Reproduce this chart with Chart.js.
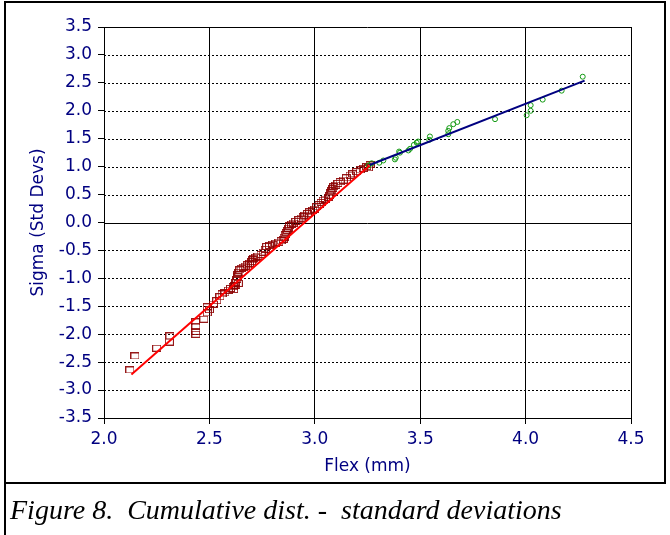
<!DOCTYPE html>
<html>
<head>
<meta charset="utf-8">
<script src="https://cdn.jsdelivr.net/npm/chart.js@4.4.0/dist/chart.umd.min.js"></script>
<style>
body { margin: 0; background: #fff; }
#wrap { position: relative; width: 670px; height: 535px; overflow: hidden; }
#chart { position: absolute; left: 0; top: 0; }
#frame { position: absolute; left: 4px; top: 1px; width: 662px; height: 483px; box-sizing: border-box; border: 2px solid #000; }
#side { position: absolute; left: 4px; top: 484px; width: 2px; height: 51px; background: #000; }
#caption { position: absolute; left: 10px; top: 496px; font: italic 28px "Liberation Serif", "Times New Roman", serif; line-height: 28px; white-space: pre; }
</style>
</head>
<body>
<div id="wrap">
  <canvas id="chart" width="670" height="485"></canvas>
  <div id="frame"></div>
  <div id="side"></div>
  <div id="caption">Figure 8.  Cumulative dist. -  standard deviations</div>
</div>
<script>
// tick labels
const xTicks = [2.0, 2.5, 3.0, 3.5, 4.0, 4.5];
const yTicks = [3.5, 3.0, 2.5, 2.0, 1.5, 1.0, 0.5, 0.0, -0.5, -1.0, -1.5, -2.0, -2.5, -3.0, -3.5];

// lower group (squares): [flex, sigma]
const lowerPts = [
    [2.123, -2.64], [2.147, -2.39], [2.25, -2.25], [2.31, -2.14], [2.313, -2.03],
    [2.436, -2.0], [2.436, -1.95], [2.436, -1.86], [2.436, -1.78],
    [2.474, -1.73], [2.49, -1.62], [2.49, -1.51], [2.5, -1.56],
    [2.519, -1.46], [2.535, -1.40], [2.55, -1.33], [2.56, -1.28], [2.574, -1.26],
    [2.59, -1.21], [2.60, -1.18], [2.613, -1.15], [2.625, -1.12], [2.637, -1.09],
    [2.615, -1.2], [2.62, -1.13], [2.625, -1.07], [2.63, -1.02], [2.632, -0.97],
    [2.635, -0.93], [2.64, -0.89], [2.645, -0.85], [2.65, -0.82], [2.66, -0.80],
    [2.67, -0.78], [2.68, -0.76], [2.69, -0.73], [2.70, -0.70], [2.705, -0.67],
    [2.71, -0.64], [2.72, -0.62], [2.73, -0.60], [2.745, -0.57], [2.755, -0.53],
    [2.765, -0.48], [2.772, -0.43], [2.785, -0.41], [2.80, -0.39], [2.815, -0.37],
    [2.83, -0.35], [2.84, -0.33], [2.85, -0.30], [2.855, -0.26], [2.86, -0.22],
    [2.865, -0.18], [2.87, -0.14], [2.875, -0.10], [2.88, -0.06], [2.89, -0.03],
    [2.898, -0.01], [2.91, 0.02], [2.925, 0.05], [2.935, 0.08], [2.945, 0.10],
    [2.953, 0.13], [2.965, 0.16], [2.975, 0.19], [2.99, 0.22], [3.0, 0.24],
    [3.009, 0.28], [3.02, 0.32], [3.03, 0.36], [3.04, 0.40], [3.05, 0.42],
    [3.065, 0.45], [3.07, 0.49], [3.075, 0.53], [3.08, 0.57], [3.085, 0.61],
    [3.09, 0.64], [3.10, 0.67], [3.11, 0.70], [3.12, 0.73], [3.135, 0.76],
    [3.15, 0.80], [3.167, 0.85], [3.18, 0.87], [3.199, 0.91], [3.215, 0.94],
    [3.23, 0.97], [3.246, 1.0], [3.255, 0.98], [3.262, 1.03]
];

// upper group (circles)
const upperPts = [
    [3.255, 1.02], [3.27, 1.06], [3.306, 1.07], [3.325, 1.11], [3.38, 1.13], [3.384, 1.16],
    [3.404, 1.25], [3.40, 1.27], [3.444, 1.29], [3.452, 1.32], [3.47, 1.39],
    [3.483, 1.43], [3.49, 1.45], [3.543, 1.48], [3.546, 1.54], [3.633, 1.58],
    [3.633, 1.64], [3.638, 1.69], [3.657, 1.76], [3.676, 1.80], [3.855, 1.85],
    [4.005, 1.92], [4.024, 2.0], [4.024, 2.10], [4.081, 2.20], [4.171, 2.36],
    [4.271, 2.61]
];

// fitted lines
const lowerFit = [[2.13, -2.72], [3.26, 1.02]];
const upperFit = [[3.26, 1.03], [4.28, 2.54]];

const toXY = arr => arr.map(p => ({ x: p[0], y: p[1] }));
const blue = "#000080";
const labelFont = { family: "DejaVu Sans", size: 17 };

// hollow rectangle marker like the original
const sq = document.createElement("canvas");
sq.width = 9;
sq.height = 7;
const sctx = sq.getContext("2d");
sctx.strokeStyle = "rgba(140, 0, 0, 0.9)";
sctx.lineWidth = 1;
sctx.strokeRect(0.5, 0.5, 8, 6);

// horizontal grid: dotted, solid at zero and top
const hGrid = {
    id: "hGrid",
    beforeDatasetsDraw(chart) {
        const { ctx, chartArea, scales } = chart;
        ctx.save();
        ctx.strokeStyle = "#000";
        ctx.lineWidth = 1;
        yTicks.forEach((v) => {
            if (v === -3.5) return;
            const py = Math.round(scales.y.getPixelForValue(v)) + 0.5;
            ctx.setLineDash(v === 0 || v === 3.5 ? [] : [2, 2]);
            ctx.beginPath();
            ctx.moveTo(chartArea.left, py);
            ctx.lineTo(chartArea.right, py);
            ctx.stroke();
        });
        ctx.restore();
    },
};

new Chart(document.getElementById("chart"), {
    type: "scatter",
    data: {
        datasets: [
            {
                data: toXY(lowerFit),
                showLine: true,
                borderColor: "#ff0000",
                borderWidth: 2,
                pointRadius: 0,
                order: 0,
            },
            {
                data: toXY(upperFit),
                showLine: true,
                borderColor: blue,
                borderWidth: 2,
                pointRadius: 0,
                order: 0,
            },
            {
                data: toXY(lowerPts),
                pointStyle: sq,
                order: 2,
            },
            {
                data: toXY(upperPts),
                pointStyle: "circle",
                pointRadius: 2.5,
                borderColor: "#129912",
                borderWidth: 1,
                backgroundColor: "rgba(0,0,0,0)",
                order: 1,
            },
        ],
    },
    plugins: [hGrid],
    options: {
        responsive: false,
        animation: false,
        devicePixelRatio: 1,
        layout: { padding: { left: 0, right: 39, top: 27, bottom: 0 } },
        plugins: { legend: { display: false }, tooltip: { enabled: false } },
        scales: {
            x: {
                type: "linear",
                min: 2,
                max: 4.5,
                afterBuildTicks: (s) => { s.ticks = xTicks.map((v) => ({ value: v })); },
                afterFit: (s) => { s.height = 67; },
                grid: { color: "#000", lineWidth: 1, tickLength: 6, tickColor: "#000" },
                border: { color: "#000", width: 1 },
                ticks: {
                    color: blue,
                    font: labelFont,
                    padding: 5,
                    maxRotation: 0,
                    autoSkip: false,
                    callback: (v) => Number(v).toFixed(1),
                },
                title: {
                    display: true,
                    text: "Flex (mm)",
                    color: blue,
                    font: labelFont,
                    padding: { top: 0, bottom: 8 },
                },
            },
            y: {
                type: "linear",
                min: -3.5,
                max: 3.5,
                afterBuildTicks: (s) => { s.ticks = yTicks.map((v) => ({ value: v })); },
                afterFit: (s) => { s.width = 104; },
                grid: { drawOnChartArea: false, tickLength: 6, tickColor: "#000" },
                border: { color: "#000", width: 1 },
                ticks: {
                    color: blue,
                    font: labelFont,
                    padding: 6,
                    autoSkip: false,
                    callback: (v) => Number(v).toFixed(1),
                },
                title: {
                    display: true,
                    text: "Sigma (Std Devs)",
                    color: blue,
                    font: labelFont,
                    padding: { top: 28, bottom: 0 },
                },
            },
        },
    },
});
</script>
</body>
</html>
